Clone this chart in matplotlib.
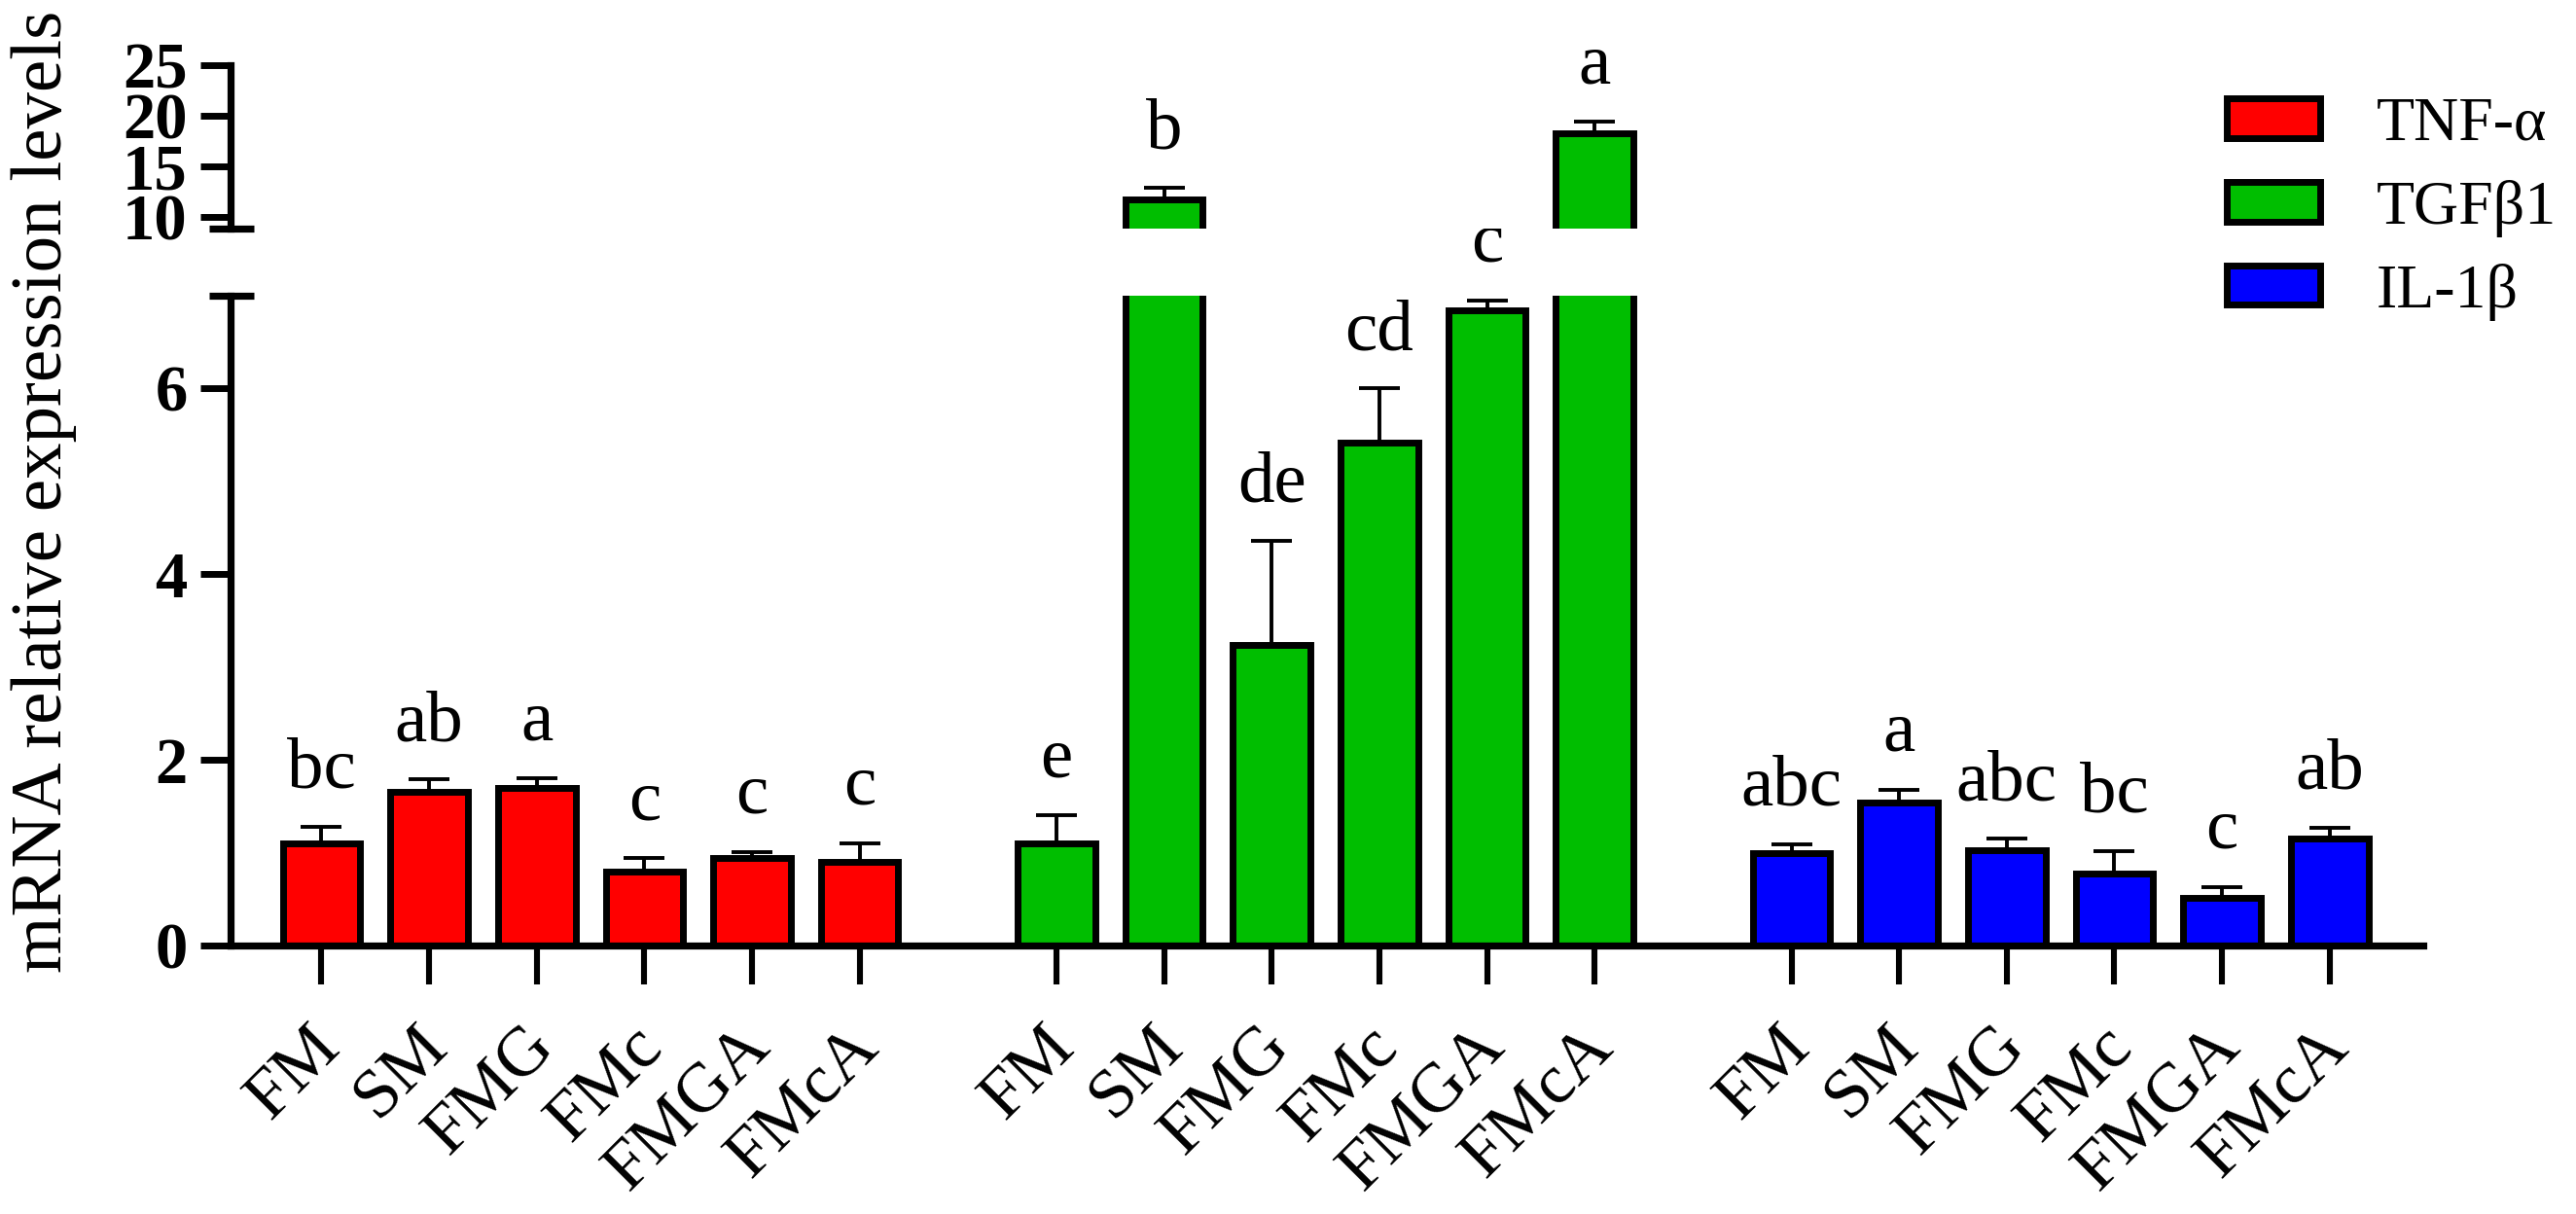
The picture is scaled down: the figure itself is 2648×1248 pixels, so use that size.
import numpy as np
import matplotlib
matplotlib.use('Agg')
import matplotlib.pyplot as plt
from matplotlib.patches import Patch
import matplotlib.transforms as mtransforms

plt.rcParams['font.family'] = ['Liberation Serif', 'DejaVu Serif']

# data
groups = ['FM', 'SM', 'FMG', 'FMc', 'FMGA', 'FMcA']
genes = ['TNF-α', 'TGFβ1', 'IL-1β']
colors = ['#FF0000', '#00BE00', '#0000FF']

tnf_mean = [1.10, 1.65, 1.70, 0.80, 0.94, 0.90]
tnf_err = [0.18, 0.14, 0.10, 0.14, 0.07, 0.20]
tnf_letters = ['bc', 'ab', 'a', 'c', 'c', 'c']

tgf_mean = [1.10, 11.7, 3.24, 5.42, 6.84, 18.3]
tgf_err = [0.30, 1.2, 1.12, 0.58, 0.11, 1.1]
tgf_letters = ['e', 'b', 'de', 'cd', 'c', 'a']

il_mean = [1.00, 1.54, 1.03, 0.78, 0.51, 1.15]
il_err = [0.09, 0.14, 0.12, 0.24, 0.12, 0.12]
il_letters = ['abc', 'a', 'abc', 'bc', 'c', 'ab']

means = [tnf_mean, tgf_mean, il_mean]
errs = [tnf_err, tgf_err, il_err]
letters = [tnf_letters, tgf_letters, il_letters]

group_step = 6.83
bar_w = 0.72
lw = 2.5

fig = plt.figure(figsize=(13.24, 6.24), dpi=200)
ax_lo = fig.add_axes([0.0895, 0.2212, 0.8512, 0.5353])
ax_hi = fig.add_axes([0.0895, 0.8117, 0.8512, 0.1346])

xs_all = []
for g in range(3):
    x = np.arange(6) + g * group_step
    xs_all.extend(x)
    for ax in (ax_lo, ax_hi):
        ax.bar(x, means[g], width=bar_w, color=colors[g], edgecolor='black',
               linewidth=lw, zorder=2)
        ax.errorbar(x, means[g], yerr=[np.zeros(6), errs[g]], fmt='none',
                    ecolor='black', elinewidth=1.4, capsize=7.7, capthick=1.4,
                    zorder=1)
    for i in range(6):
        top = means[g][i] + errs[g][i]
        ax = ax_hi if means[g][i] > 7 else ax_lo
        ax.annotate(letters[g][i], xy=(x[i], top), xytext=(0, 14.4),
                    textcoords='offset points', ha='center', va='baseline',
                    fontsize=27)

ax_lo.set_xlim(-0.845, 19.53)
ax_hi.set_xlim(-0.845, 19.53)
ax_lo.set_ylim(0, 7)
ax_hi.set_ylim(8.85, 25)
ax_lo.set_yticks([0, 2, 4, 6])
ax_hi.set_yticks([10, 15, 20, 25])

for ax in (ax_lo, ax_hi):
    ax.spines['top'].set_visible(False)
    ax.spines['right'].set_visible(False)
    ax.spines['left'].set_linewidth(2.6)
    ax.spines['bottom'].set_linewidth(2.6)
    ax.tick_params(axis='y', length=11, width=2.5, pad=5, labelsize=24)
    for lab in ax.get_yticklabels():
        lab.set_fontweight('bold')

ax_hi.spines['bottom'].set_visible(False)
ax_hi.tick_params(axis='x', bottom=False, labelbottom=False)

ax_lo.set_xticks(xs_all)
ax_lo.set_xticklabels(groups * 3, rotation=45, ha='right', va='baseline',
                      rotation_mode='anchor', fontsize=26)
ax_lo.tick_params(axis='x', length=14.4, width=2.2, pad=4)
shift = mtransforms.ScaledTranslation(7.6 / 72, -19.8 / 72, fig.dpi_scale_trans)
for lab in ax_lo.get_xticklabels():
    lab.set_transform(lab.get_transform() + shift)

# break marks on the y axis
for ax, yb in ((ax_hi, 0), (ax_lo, 1)):
    ax.plot([-0.0098, 0.0106], [yb, yb], transform=ax.transAxes,
            color='black', linewidth=2.6, clip_on=False, solid_capstyle='butt')

fig.text(45 / 2648, 1 - 505 / 1248, 'mRNA relative expression levels',
         rotation=90, ha='center', va='center', fontsize=27)

handles = [Patch(facecolor=c, edgecolor='black', linewidth=lw) for c in colors]
fig.legend(handles, genes, loc='upper left', bbox_to_anchor=(2289 / 2648, 1 - 100 / 1248),
           frameon=False, fontsize=23, handlelength=1.5, handleheight=0.6,
           handletextpad=0.9, labelspacing=0.42, borderpad=0, borderaxespad=0)

fig.savefig('out.png', dpi=200)
